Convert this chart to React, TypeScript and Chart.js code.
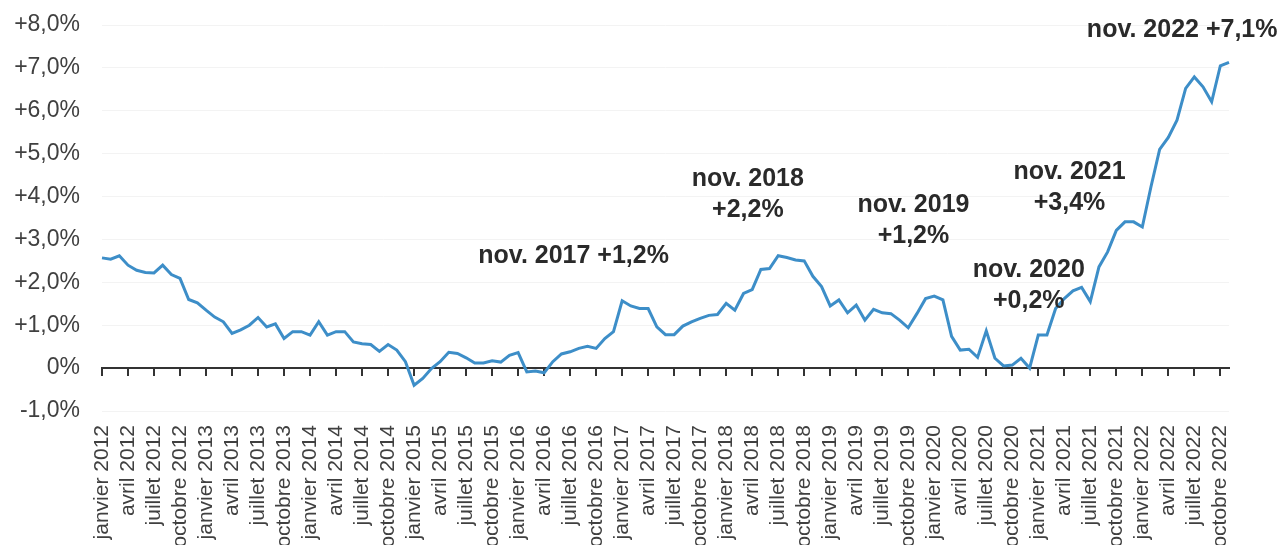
import React, { useEffect, useRef } from 'react';
import { Chart, registerables } from 'chart.js';

Chart.register(...registerables);

// ---------- data ----------
const MONTHS = ['janvier', 'février', 'mars', 'avril', 'mai', 'juin', 'juillet', 'août', 'septembre', 'octobre', 'novembre', 'décembre'];
const YEARS = [2012, 2013, 2014, 2015, 2016, 2017, 2018, 2019, 2020, 2021, 2022];

const v2012 = [2.57, 2.54, 2.62, 2.4, 2.28, 2.23, 2.22, 2.4, 2.18, 2.09, 1.6, 1.52];
const v2013 = [1.35, 1.19, 1.08, 0.81, 0.89, 1.0, 1.18, 0.96, 1.03, 0.69, 0.85, 0.85];
const v2014 = [0.77, 1.08, 0.77, 0.85, 0.85, 0.61, 0.57, 0.55, 0.39, 0.55, 0.42, 0.15];
const v2015 = [-0.4, -0.24, -0.01, 0.15, 0.37, 0.34, 0.24, 0.12, 0.12, 0.17, 0.14, 0.3];
const v2016 = [0.36, -0.09, -0.07, -0.11, 0.15, 0.33, 0.38, 0.46, 0.51, 0.46, 0.69, 0.85];
const v2017 = [1.57, 1.45, 1.39, 1.39, 0.96, 0.78, 0.78, 0.98, 1.08, 1.16, 1.23, 1.25];
const v2018 = [1.51, 1.35, 1.74, 1.83, 2.3, 2.32, 2.62, 2.58, 2.52, 2.5, 2.14, 1.9];
const v2019 = [1.45, 1.59, 1.29, 1.47, 1.12, 1.37, 1.29, 1.27, 1.12, 0.94, 1.27, 1.62];
const v2020 = [1.68, 1.59, 0.74, 0.42, 0.44, 0.25, 0.87, 0.23, 0.05, 0.07, 0.23, 0.0];
const v2021 = [0.77, 0.77, 1.39, 1.62, 1.8, 1.88, 1.55, 2.36, 2.71, 3.21, 3.41, 3.41];
const v2022 = [3.29, 4.23, 5.1, 5.38, 5.78, 6.52, 6.79, 6.56, 6.21, 7.05, 7.13];

const VALUES = [...v2012, ...v2013, ...v2014, ...v2015, ...v2016, ...v2017, ...v2018, ...v2019, ...v2020, ...v2021, ...v2022];
const CATEGORIES = YEARS.flatMap((y) => MONTHS.map((m) => `${m} ${y}`)).slice(0, VALUES.length);

const Y_MIN = -1;
const Y_MAX = 8;

const NOTE_TEXTS = [
  ['nov. 2017 +1,2%'],
  ['nov. 2018', '+2,2%'],
  ['nov. 2019', '+1,2%'],
  ['nov. 2020', '+0,2%'],
  ['nov. 2021', '+3,4%'],
  ['nov. 2022 +7,1%'],
];
// anchor of each note, in data units (month index, percent)
const NOTE_X = [54.4, 74.5, 93.6, 106.9, 111.6, 124.6];
const NOTE_Y = [2.61, 4.05, 3.43, 1.93, 4.2, 7.88];

// ---------- helpers ----------
const FONT = '"Liberation Sans", Arial, Helvetica, sans-serif';

const fmtPct = (v: number) => {
  if (v === 0) return '0%';
  const s = Math.abs(v).toFixed(1).replace('.', ',');
  return (v > 0 ? '+' : '-') + s + '%';
};

const notesPlugin = {
  id: 'notes',
  afterDatasetsDraw(chart: any) {
    const { ctx } = chart;
    const xs = chart.scales.x;
    const ys = chart.scales.y;
    ctx.save();
    ctx.font = `bold 25px ${FONT}`;
    ctx.fillStyle = '#2a2a2a';
    ctx.textAlign = 'center';
    ctx.textBaseline = 'middle';
    NOTE_TEXTS.forEach((lines, i) => {
      const cx = xs.getPixelForValue(NOTE_X[i]);
      const cy = ys.getPixelForValue(NOTE_Y[i]);
      const n = lines.length;
      lines.forEach((t, j) => {
        ctx.fillText(t, cx, cy + (j - (n - 1) / 2) * 31);
      });
    });
    ctx.restore();
  },
};

export default function App() {
  const ref = useRef<HTMLCanvasElement | null>(null);

  useEffect(() => {
    document.body.style.margin = '0';
    const canvas = ref.current;
    if (!canvas) return;
    const chart = new Chart(canvas, {
      type: 'line',
      data: {
        labels: CATEGORIES,
        datasets: [
          {
            data: VALUES,
            borderColor: '#3d8ec8',
            borderWidth: 3,
            pointRadius: 0,
            tension: 0,
            fill: false,
            xAxisID: 'x',
            yAxisID: 'y',
          },
        ],
      },
      options: {
        animation: false,
        responsive: false,
        devicePixelRatio: 1,
        layout: { padding: { top: 25, right: 55, bottom: 0, left: 0 } },
        plugins: {
          legend: { display: false },
          tooltip: { enabled: false },
          title: { display: false },
        },
        scales: {
          x: {
            type: 'category',
            position: 'bottom',
            grid: { display: false, drawTicks: false },
            border: { display: false },
            afterFit: (s: any) => {
              s.height = 134;
            },
            ticks: {
              autoSkip: false,
              minRotation: 90,
              maxRotation: 90,
              padding: 14,
              color: '#404040',
              font: { family: FONT, size: 21 },
              callback: function (this: any, value: any, index: number) {
                return index % 3 === 0 ? CATEGORIES[index] : null;
              },
            },
          },
          x0: {
            type: 'category',
            axis: 'x',
            position: { y: 0 },
            afterFit: (s: any) => {
              s.height = 0;
            },
            grid: {
              drawOnChartArea: false,
              drawTicks: true,
              tickLength: 7,
              lineWidth: 2,
              color: (c: any) => (c.index % 3 === 0 ? '#333333' : 'rgba(0,0,0,0)'),
            },
            border: { display: true, color: '#333333', width: 2 },
            ticks: { display: false, autoSkip: false },
          },
          y: {
            type: 'linear',
            min: Y_MIN,
            max: Y_MAX,
            afterFit: (s: any) => {
              s.width = 102;
            },
            grid: {
              drawTicks: true,
              tickLength: 22,
              tickColor: 'rgba(0,0,0,0)',
              color: (c: any) => (c.tick && c.tick.value === 0 ? 'rgba(0,0,0,0)' : '#f3f3f3'),
              lineWidth: 1,
            },
            border: { display: false },
            ticks: {
              stepSize: 1,
              padding: 0,
              color: '#404040',
              font: { family: FONT, size: 23 },
              callback: (v: any) => fmtPct(Number(v)),
            },
          },
        },
      },
      plugins: [notesPlugin],
    } as any);
    return () => chart.destroy();
  }, []);

  return (
    <div style={{ width: 1284, height: 545, overflow: 'hidden' }}>
      <canvas ref={ref} width={1284} height={545} style={{ display: 'block' }} />
    </div>
  );
}
